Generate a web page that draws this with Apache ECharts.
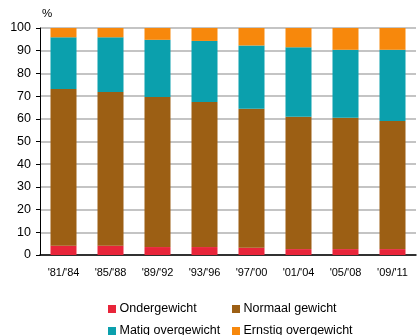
<!DOCTYPE html>
<html><head><meta charset="utf-8">
<script src="https://cdn.jsdelivr.net/npm/echarts@6/dist/echarts.min.js"></script>
<style>html,body{margin:0;padding:0;background:#fff}#c{width:417px;height:335px}</style>
</head><body><div id="c"></div>
<script>
const categories = ["'81/'84","'85/'88","'89/'92","'93/'96","'97/'00","'01/'04","'05/'08","'09/'11"];
const ondergewicht = [4.1,4.1,3.5,3.5,3.2,2.6,2.6,2.6];
const normaal = [69.0,67.7,66.1,63.9,61.2,58.3,57.9,56.4];
const matig = [22.8,24.1,25.2,26.9,27.9,30.6,29.9,31.4];
const ernstig = [4.1,4.1,5.2,5.7,7.7,8.5,9.6,9.6];
const names = ["Ondergewicht","Normaal gewicht","Matig overgewicht","Ernstig overgewicht"];
const colors = ["#e8253a","#9c5f14","#0ba0ad","#f7880c"];
const yTicks = [0,10,20,30,40,50,60,70,80,90,100];
const font = "Liberation Sans, Arial, sans-serif";
const chart = echarts.init(document.getElementById('c'));
const vals = [ondergewicht, normaal, matig, ernstig];
const legPos = [[108,302.5],[232,302.5],[108,324.5],[232,324.5]];
chart.setOption({
  animation:false,
  textStyle:{fontFamily:font},
  grid:{left:40,right:1,top:28,bottom:80,containLabel:false},
  legend: names.map((n,i)=>({data:[n],left:legPos[i][0],top:legPos[i][1],padding:0,itemWidth:8,itemHeight:8,itemGap:0,
    icon:'rect',textStyle:{fontSize:12.5,color:'#000',fontFamily:font,padding:[0,0,0,-1.5]},selectedMode:false})),
  xAxis:{type:'category',data:categories,
    axisLine:{lineStyle:{color:'#000',width:1.5}},axisTick:{show:false},
    axisLabel:{fontSize:11,color:'#000',margin:12,interval:0}},
  yAxis:{type:'value',min:0,max:100,interval:10,
    axisLine:{show:true,lineStyle:{color:'#000',width:1}},
    axisTick:{show:true,length:4,lineStyle:{color:'#000'}},
    axisLabel:{fontSize:12.5,color:'#000',margin:9,formatter:v=>yTicks.includes(v)?String(v):''},
    splitLine:{lineStyle:{color:'#b0b0b0',width:1.5}},
    name:'%',nameLocation:'end',nameGap:8,nameTextStyle:{fontSize:11.5,color:'#000',align:'left',padding:[0,0,0,2]}},
  series: names.map((n,i)=>({name:n,type:'bar',stack:'t',data:vals[i],barWidth:26,
    itemStyle:{color:colors[i]}}))
});
</script></body></html>
